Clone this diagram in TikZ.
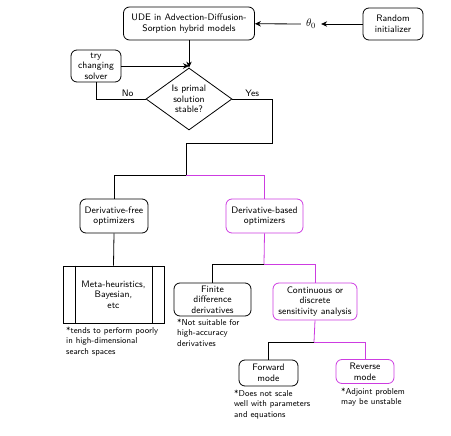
\documentclass[tikz,border=0pt]{standalone}
\usetikzlibrary{shapes.geometric,arrows.meta}
\definecolor{mag}{RGB}{205,60,225}
\tikzset{
  x=1pt,y=-1pt,
  every node/.style={font=\fontsize{9.4}{10.6}\selectfont\sffamily},
  box/.style={draw,rounded corners=6pt,align=center,inner sep=1pt,line width=0.8pt},
  magbox/.style={box,draw=mag},
  note/.style={align=left,anchor=north west,inner sep=0pt,font=\fontsize{8.6}{10.3}\selectfont\sffamily},
  conn/.style={line width=0.8pt},
  arr/.style={conn,-{Stealth[length=6pt,width=5.5pt]}},
}
\begin{document}
\begin{tikzpicture}
\useasboundingbox (0,0) rectangle (451,436);
% nodes
\node[box,minimum width=131,minimum height=33] (ude) at (189,23.5) {UDE in Advection-Diffusion-\\Sorption hybrid models};
\node[box,minimum width=60,minimum height=32] (rand) at (393,24) {Random\\initializer};
\node[inner sep=5pt,font=\fontsize{11}{13}\selectfont] (theta) at (311,24) {$\theta_0$};
\node[box,minimum width=50,minimum height=32,inner sep=0pt] (try) at (96,66) {try\\changing\\solver};
\node[draw,diamond,line width=0.8pt,minimum width=86,minimum height=62,inner sep=0pt,align=center,aspect=1.39] (dia) at (189,99) {Is primal\\solution\\stable?};
\node[box,minimum width=68,minimum height=34] (dfree) at (114,216) {Derivative-free\\optimizers};
\node[magbox,minimum width=77,minimum height=34] (dbased) at (264.5,216) {Derivative-based\\optimizers};
\node[draw,line width=0.8pt,minimum width=101,minimum height=57,align=center,inner sep=0pt] (meta) at (113.5,294.5) {Meta-heuristics,\\Bayesian,\\etc};
\draw[line width=0.8pt] ([xshift=13]meta.north west) -- ([xshift=13]meta.south west);
\draw[line width=0.8pt] ([xshift=-12]meta.north east) -- ([xshift=-12]meta.south east);
\node[box,minimum width=77,minimum height=33] (finite) at (212.5,299.5) {Finite\\difference\\derivatives};
\node[magbox,minimum width=84,minimum height=37] (cont) at (315,301.5) {Continuous or\\discrete\\sensitivity analysis};
\node[box,minimum width=59,minimum height=26] (fwd) at (268.5,373) {Forward\\mode};
\node[magbox,minimum width=58,minimum height=24] (rev) at (365,371.5) {Reverse\\mode};
% notes
\node[note] (n1) at (66,327) {*tends to perform poorly\\in high-dimensional\\search spaces};
\node[note] (n2) at (177,319) {*Not suitable for\\high-accuracy\\derivatives};
\node[note] (n3) at (234,390) {*Does not scale\\well with parameters\\and equations};
\node[note] (n4) at (341,388) {*Adjoint problem\\may be unstable};
% coordinates
\coordinate (yes1) at (272,143);
\coordinate (split1) at (186,175);
\coordinate (split2) at (264,264);
\coordinate (split3) at (314,342);
% connectors
\draw[arr] (rand) -- (theta);
\draw[arr] (theta) -- (ude);
\draw[arr] (ude) -- (dia.north);
\draw[arr] (try.east) -- (try.east -| dia.north);
\draw[conn] (dia.west) -| node[pos=0.18,above=-1pt] {No} (try.south);
\draw[conn] (dia.east) -| node[pos=0.25,above=-1pt] {Yes} (yes1) -| (split1);
\draw[conn] (split1) -| (dfree.north);
\draw[conn,mag] (split1) -| (dbased.north);
\draw[conn] (dfree.south) -- (meta.north);
\draw[conn,mag] (dbased.south) -- (split2);
\draw[conn] (split2) -| (finite.north);
\draw[conn,mag] (split2) -| (cont.north);
\draw[conn,mag] (cont.south) -- (split3);
\draw[conn] (split3) -| (fwd.north);
\draw[conn,mag] (split3) -| (rev.north);
\end{tikzpicture}
\end{document}
